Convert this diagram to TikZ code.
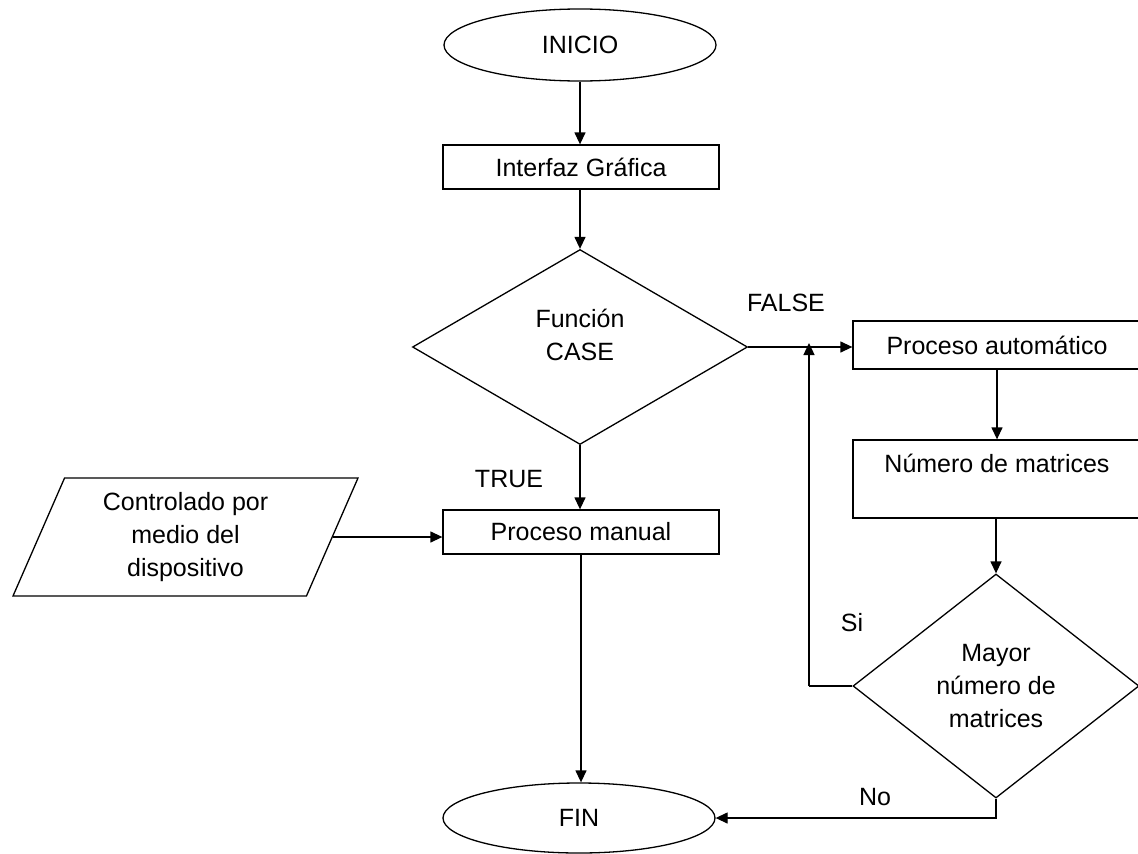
\documentclass[tikz,border=0pt]{standalone}
\usepackage{fontspec}
\setmainfont{Liberation Sans}
\usetikzlibrary{shapes.geometric,arrows.meta}
\begin{document}
\begin{tikzpicture}[x=1pt,y=-1pt,
  base/.style={font=\fontsize{25}{33}\selectfont, align=center, line width=1.3pt, inner sep=0pt},
  term/.style={base, draw, ellipse, minimum width=272pt, minimum height=72pt},
  proc/.style={base, draw, rectangle, minimum width=276pt, minimum height=44pt},
  dec/.style={base, draw, diamond},
  io/.style={base, draw, trapezium, trapezium left angle=60, trapezium right angle=120, trapezium stretches body, minimum width=345pt, minimum height=118pt},
  lbl/.style={font=\fontsize{25}{33}\selectfont, inner sep=0pt},
  arr/.style={line width=1.3pt, -{Triangle[length=12pt,width=11pt]}},
  ln/.style={line width=1.3pt}
]
\useasboundingbox (0,0) rectangle (1138,854);
\fill[white] (0,0) rectangle (1138,854);

\node[term] (inicio) at (580,45) {INICIO};
\node[proc] (interfaz) at (581,167) {Interfaz Gráfica};
\node[dec, minimum width=335pt, minimum height=195pt, aspect=1.718,
      label={[lbl, align=center, yshift=12pt]center:Función\\CASE}] (case) at (580,347) {};
\node[proc] (manual) at (581,532) {Proceso manual};
\node[io] (ctrl) at (185.5,537) {Controlado por\\medio del\\dispositivo};
\node[term, minimum height=70pt] (fin) at (579,818) {FIN};
\node[proc, minimum width=310pt, minimum height=48pt,
      label={[lbl, xshift=-11pt]center:Proceso automático}] (auto) at (1008,345) {};
\node[proc, minimum width=310pt, minimum height=78pt,
      label={[lbl, xshift=-11pt, yshift=16pt]center:Número de matrices}] (numero) at (1008,479) {};
\node[dec, minimum width=286pt, minimum height=224pt, aspect=1.277] (mayor) at (996,686) {Mayor\\número de\\matrices};

\coordinate (siX) at (809,0);

\draw[arr] (inicio.south) -- (inicio.south |- interfaz.north);
\draw[arr] (interfaz.south -| case.north) -- (case.north);
\draw[arr] (case.south) -- (case.south |- manual.north);
\draw[arr] (case.east) -- (case.east -| auto.west);
\draw[arr] ([xshift=-11pt]auto.south) -- ([xshift=-11pt]numero.north);
\draw[arr] (mayor.north |- numero.south) -- (mayor.north);
\draw[ln] (mayor.west) -- (mayor.west -| siX);
\draw[arr] (mayor.west -| siX) -- ([yshift=4pt]siX |- case.east);
\draw[arr] (mayor.south) -- (mayor.south |- fin.east) -- (fin.east);
\draw[arr] (ctrl.east) -- (ctrl.east -| manual.west);
\draw[arr] (manual.south) -- (manual.south |- fin.north);

\node[lbl] (lfalse) at (786,303) {FALSE};
\node[lbl] (ltrue) at (509,479) {TRUE};
\node[lbl] (lsi) at (852,623) {Si};
\node[lbl] (lno) at (875,797) {No};
\end{tikzpicture}
\end{document}
